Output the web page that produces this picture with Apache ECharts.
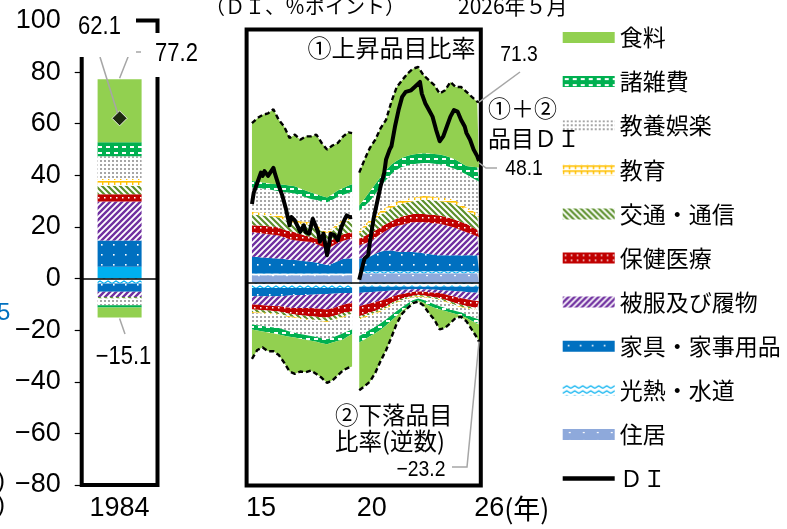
<!DOCTYPE html>
<html lang="ja"><head><meta charset="utf-8">
<script src="https://cdn.jsdelivr.net/npm/echarts@6/dist/echarts.min.js"></script>
<style>html,body{margin:0;padding:0;background:#fff;}#chart{width:787px;height:529px;}</style>
</head><body><div id="chart"></div>
<script>
// ---------------- DATA ----------------
// legend order (top of the stack first)
const categories = ['食料','諸雑費','教養娯楽','教育','交通・通信','保健医療','被服及び履物','家具・家事用品','光熱・水道','住居'];

// sample months of the stacked contributions (seg1: 2015-01..2019-09, gap, seg2: 2020-10..2026-05)
const sampleMonths = ['2015-01','2015-04','2015-07','2015-10','2016-01','2016-04','2016-07','2016-10','2017-01','2017-04','2017-07','2017-10','2018-01','2018-04','2018-07','2018-10','2019-01','2019-04','2019-07','2019-09',
 '除外2',
 '2020-10','2021-01','2021-04','2021-07','2021-10','2022-01','2022-04','2022-07','2022-10','2023-01','2023-04','2023-07','2023-10','2024-01','2024-04','2024-07','2024-10','2025-01','2025-04','2025-07','2025-10','2026-01','2026-04','2026-05'];

// ① rising-item contributions (points)
const upFood   = [22.8,25.0,26.7,27.6,29.5,25.4,23.0,18.8,20.4,19.3,21.4,22.1,23.5,20.9,18.9,19.2,18.8,20.4,21.0,20.2, null, 13.0,15.4,17.1,17.5,19.2,19.8,24.8,29.1,30.6,32.4,33.8,34.2,30.7,28.9,27.1,24.0,25.8,29.8,28.7,30.0,29.3,27.6,25.9,25.8];
const upMisc   = [2.6,2.6,2.4,2.4,2.5,2.7,2.8,2.8,2.8,2.7,2.6,2.6,2.3,2.1,1.9,2.2,2.4,2.6,2.9,2.9, null, 2.0,3.0,3.9,3.9,3.7,3.9,3.7,3.6,3.6,3.9,3.9,3.9,3.9,3.8,3.9,3.9,3.9,3.9,3.8,3.5,3.3,4.3,5.2,5.5];
const upCult   = [9.5,9.5,9.5,9.4,9.2,9.2,9.9,10.5,10.7,10.2,9.7,9.2,9.9,10.8,11.8,11.1,10.5,9.7,10.1,10.5, null, 7.8,7.5,7.3,8.4,9.7,10.8,12.0,12.6,13.0,13.0,13.1,13.1,13.0,13.1,13.0,13.1,12.8,12.4,12.4,12.6,13.0,12.9,12.8,12.8];
const upEdu    = [1.1,1.1,1.1,1.1,1.1,1.2,1.1,1.1,1.1,1.1,1.1,1.1,1.1,1.0,1.0,1.1,1.1,1.1,1.0,1.0, null, 1.2,1.3,1.6,1.6,1.6,1.6,1.5,1.6,1.6,1.5,1.5,1.5,1.5,1.5,1.5,1.5,1.5,1.5,1.4,1.4,1.3,1.3,1.2,1.2];
const upTrans  = [4.3,4.2,4.1,4.1,4.1,4.0,3.9,3.6,3.5,3.9,4.4,4.7,4.2,3.6,2.9,3.6,4.2,4.8,4.6,4.5, null, 2.1,3.0,3.8,4.4,4.9,5.0,5.2,5.0,5.0,5.1,5.0,5.3,5.6,5.7,5.7,5.6,5.9,6.2,6.2,5.8,5.2,5.3,5.4,5.3];
const upHealth = [2.7,2.8,3.0,3.1,3.1,3.1,3.0,3.2,3.2,2.8,2.3,2.0,2.2,2.4,2.6,2.5,2.5,2.6,2.6,2.5, null, 2.6,3.0,3.3,2.9,2.7,2.6,2.6,3.0,3.3,3.3,3.3,3.3,3.3,3.3,3.3,3.3,3.3,3.3,3.2,3.2,3.3,2.8,2.6,2.6];
const upCloth  = [9.7,9.6,9.5,9.3,9.3,9.1,8.6,8.1,7.8,7.7,7.8,7.8,7.3,6.9,6.5,6.9,7.2,7.1,7.6,7.9, null, 5.2,5.6,5.9,6.3,6.9,7.8,8.9,10.0,10.7,11.2,11.7,11.9,12.2,12.3,12.4,12.4,11.9,11.3,10.7,9.9,9.1,8.3,7.5,7.2];
const upFurn   = [6.6,6.5,6.3,6.2,6.0,5.9,5.7,5.4,5.3,5.1,4.8,4.6,4.3,3.8,3.3,3.9,4.8,5.8,5.9,5.9, null, 5.0,5.3,5.8,6.9,7.8,8.2,8.2,7.8,7.6,7.6,7.6,7.4,7.1,6.8,6.5,6.3,6.3,6.3,6.3,6.3,6.3,6.3,6.3,6.3];
const upUtil   = [0.7,0.7,0.7,0.7,0.7,0.7,0.7,0.7,0.7,0.7,0.7,0.7,0.7,0.7,0.7,0.7,0.7,0.7,0.7,0.7, null, 0.8,0.8,0.8,0.8,0.8,0.8,0.8,0.8,0.8,0.8,0.8,0.8,0.8,0.8,0.8,0.8,0.8,0.8,0.8,0.8,0.8,0.8,0.8,0.8];
const upHouse  = [3.0,3.0,3.0,3.0,3.0,3.0,3.0,3.0,3.0,3.0,3.0,3.0,3.0,3.0,3.0,3.0,3.0,3.0,3.0,3.0, null, 3.8,3.8,3.8,3.8,3.8,3.8,3.8,3.8,3.8,3.8,3.8,3.8,3.8,3.8,3.8,3.8,3.8,3.8,3.8,3.8,3.8,3.8,3.8,3.8];

// ② falling-item contributions (sign reversed)
const dnFood   = [-11.6,-7.7,-6.3,-7.4,-7.0,-8.1,-10.6,-13.7,-14.3,-12.9,-12.8,-11.7,-12.7,-13.7,-15.3,-14.9,-13.5,-12.1,-12.5,-12.7, null, -18.8,-18.4,-17.9,-15.6,-12.3,-9.8,-6.6,-3.0,-1.2,-0.6,-0.4,-0.4,-1.2,-3.1,-4.7,-7.9,-6.7,-4.2,-1.5,-0.5,-1.3,-3.4,-5.8,-6.8];
const dnMisc   = [-2.0,-2.1,-2.2,-2.3,-2.4,-2.6,-2.4,-2.1,-1.9,-1.9,-1.9,-1.9,-1.9,-1.9,-1.9,-2.0,-2.2,-2.5,-2.0,-1.9, null, -2.6,-2.6,-2.6,-2.6,-2.5,-2.3,-2.1,-1.9,-1.4,-1.2,-0.7,-0.8,-1.0,-1.2,-1.3,-1.3,-1.2,-1.2,-1.2,-1.2,-1.4,-1.6,-1.8,-1.9];
const dnCult   = [-4.5,-4.7,-4.8,-5.0,-5.1,-5.1,-5.3,-5.6,-5.8,-5.9,-6.0,-6.1,-6.3,-6.6,-6.8,-6.6,-6.4,-6.2,-6.0,-5.8, null, -6.5,-6.0,-5.5,-5.0,-4.6,-4.1,-3.7,-3.2,-2.4,-1.7,-1.0,-0.7,-1.0,-1.5,-1.9,-2.3,-2.3,-2.1,-2.0,-2.0,-2.4,-2.9,-3.3,-3.5];
const dnEdu    = [-0.4,-0.4,-0.4,-0.4,-0.4,-0.4,-0.4,-0.4,-0.4,-0.4,-0.4,-0.4,-0.4,-0.4,-0.4,-0.4,-0.4,-0.4,-0.4,-0.4, null, -0.5,-0.5,-0.5,-0.5,-0.5,-0.5,-0.4,-0.3,-0.3,-0.3,-0.3,-0.3,-0.3,-0.3,-0.3,-0.3,-0.3,-0.3,-0.3,-0.3,-0.3,-0.4,-0.4,-0.4];
const dnTrans  = [-1.0,-1.0,-1.0,-1.0,-1.0,-1.0,-1.0,-1.0,-1.0,-1.1,-1.2,-1.3,-1.3,-1.3,-1.3,-1.4,-1.4,-1.4,-1.1,-1.0, null, -0.8,-0.8,-0.8,-0.8,-0.7,-0.7,-0.7,-0.6,-0.7,-0.6,-0.5,-0.5,-0.5,-0.6,-0.6,-0.6,-0.6,-0.7,-0.7,-0.7,-0.7,-0.7,-0.7,-0.7];
const dnHealth = [-1.9,-1.9,-2.0,-1.9,-2.0,-2.1,-2.3,-2.4,-2.6,-2.9,-3.1,-3.3,-3.3,-3.3,-3.3,-3.2,-3.2,-3.2,-3.3,-3.3, null, -4.0,-3.8,-3.5,-3.4,-3.1,-2.8,-2.4,-2.1,-1.8,-1.6,-1.5,-1.3,-1.5,-1.6,-1.8,-2.0,-2.2,-2.3,-2.5,-2.6,-2.6,-2.6,-2.6,-2.6];
const dnCloth  = [-3.3,-3.4,-3.5,-3.7,-3.8,-3.9,-4.3,-4.8,-5.0,-5.1,-5.1,-5.2,-5.5,-5.8,-6.1,-5.7,-5.2,-4.7,-4.2,-3.9, null, -5.2,-4.9,-4.5,-4.1,-3.7,-3.2,-2.6,-2.0,-1.7,-1.4,-1.1,-1.0,-1.0,-1.1,-1.2,-1.2,-1.5,-2.0,-2.3,-2.7,-2.9,-3.1,-3.3,-3.3];
const dnFurn   = [-3.3,-3.3,-3.3,-3.3,-3.3,-3.3,-3.2,-3.0,-2.9,-2.8,-2.8,-2.7,-2.6,-2.5,-2.4,-2.3,-2.2,-2.0,-2.0,-2.0, null, -2.5,-2.3,-2.2,-2.0,-1.9,-1.7,-1.5,-1.4,-1.2,-1.1,-1.0,-0.9,-1.0,-1.1,-1.2,-1.3,-1.5,-1.6,-1.8,-1.9,-2.1,-2.3,-2.4,-2.5];
const dnUtil   = [-2.0,-2.0,-2.0,-2.0,-2.0,-2.0,-2.0,-2.0,-2.0,-2.0,-2.0,-2.0,-2.0,-2.0,-2.0,-2.0,-2.0,-2.0,-2.0,-2.0, null, -1.5,-1.5,-1.5,-1.5,-1.5,-1.5,-1.5,-1.5,-1.5,-1.5,-1.5,-1.5,-1.5,-1.5,-1.5,-1.5,-1.5,-1.5,-1.5,-1.5,-1.5,-1.5,-1.5,-1.5];
const dnHouse  = [0,0,0,0,0,0,0,0,0,0,0,0,0,0,0,0,0,0,0,0, null, 0,0,0,0,0,0,0,0,0,0,0,0,0,0,0,0,0,0,0,0,0,0,0,0];

// DI (①+②)
const diMonths = ['2015-01','2015-02','2015-04','2015-06','2015-07','2015-08','2015-10','2015-11','2016-01','2016-02','2016-04','2016-06','2016-08','2016-10','2016-11','2017-01','2017-02','2017-04','2017-06','2017-07','2017-09','2017-11','2017-12','2018-02','2018-03','2018-05','2018-07','2018-08','2018-09','2018-11','2019-01','2019-03','2019-05','2019-06','2019-08','2019-09',
 '除外2',
 '2020-10','2020-12','2021-01','2021-03','2021-04','2021-06','2021-08','2021-10','2021-12','2022-01','2022-03','2022-04','2022-06','2022-08','2022-10','2022-12','2023-03','2023-05','2023-06','2023-08','2023-09','2023-11','2024-01','2024-03','2024-05','2024-07','2024-08','2024-09','2024-11','2025-01','2025-03','2025-05','2025-07','2025-09','2025-10','2025-12','2026-02','2026-04','2026-05'];
const diValues = [31.1,35.6,39.5,43.5,42.2,44.1,42.2,42.8,45.4,42.8,38.3,34.4,29.2,22.7,26.0,24.6,24.0,20.1,22.7,20.1,19.4,25.3,25.9,20.1,16.2,19.4,10.9,14.8,19.4,18.8,16.8,22.0,25.3,26.6,25.9,26.0,
 null,
 1.2,7.0,9.6,10.9,16.1,25.3,31.8,38.3,43.5,48.7,52.6,53.9,61.7,68.2,73.4,75.4,76.0,77.3,78.0,79.3,74.7,70.8,68.2,65.6,60.4,55.9,56.5,57.8,61.7,65.6,68.2,67.6,64.3,61.7,59.1,56.5,52.6,50.0,48.1];

// 1984 bar (categories order)
const bar1984Up   = [24.4, 5.4, 8.8, 2.6, 3.3, 2.8, 15.2, 10.1, 4.6, 0.0];
const bar1984Down = [-3.9, -0.9, -2.6, 0.0, -0.6, 0.0, -2.0, -3.2, -1.9, 0.0];
const di1984 = 62.1;

// x tick labels of the middle panel
const xTickAt   = ['2015-06','2021-05','2026-06'];
const xTickText = ['15','20','26'];
const yTicks = [-80,-60,-40,-20,0,20,40,60,80,100];

// ---------------- BUILD ----------------
const upArr = {'食料':upFood,'諸雑費':upMisc,'教養娯楽':upCult,'教育':upEdu,'交通・通信':upTrans,'保健医療':upHealth,'被服及び履物':upCloth,'家具・家事用品':upFurn,'光熱・水道':upUtil,'住居':upHouse};
const dnArr = {'食料':dnFood,'諸雑費':dnMisc,'教養娯楽':dnCult,'教育':dnEdu,'交通・通信':dnTrans,'保健医療':dnHealth,'被服及び履物':dnCloth,'家具・家事用品':dnFurn,'光熱・水道':dnUtil,'住居':dnHouse};

function monthSeq(y, m, n){ const o=[]; for(let k=0;k<n;k++){ const t=y*12+(m-1)+k; o.push(Math.floor(t/12)+'-'+String(t%12+1).padStart(2,'0')); } return o; }
const axisMonths = [].concat(['2014-10','2014-11','2014-12'], monthSeq(2015,1,57), ['除外1','除外2','除外3'], monthSeq(2020,10,68), ['2026-06']);

const JP = "'Noto Sans CJK JP','Noto Sans CJK SC',sans-serif";
const NUM = "'Liberation Sans Narrow','Arial Narrow','Liberation Sans',sans-serif";

function pat(w, h, draw){ const c=document.createElement('canvas'); c.width=w; c.height=h; const g=c.getContext('2d'); draw(g); return {image:c, repeat:'repeat'}; }
const fills = {
  '食料': '#92D050',
  '諸雑費': pat(8,6,g=>{g.fillStyle='#00B050';g.fillRect(0,0,8,6);g.fillStyle='#fff';g.fillRect(2,2,4,2);}),
  '教養娯楽': pat(4,4,g=>{g.fillStyle='#fff';g.fillRect(0,0,4,4);g.fillStyle='#A6A6A6';g.fillRect(0,0,2,2);}),
  '教育': pat(6,5,g=>{g.fillStyle='#fff';g.fillRect(0,0,6,5);g.fillStyle='#FFC000';g.fillRect(0,1,6,1.6);g.fillRect(0,1,1.4,4);}),
  '交通・通信': pat(6,6,g=>{g.fillStyle='#fff';g.fillRect(0,0,6,6);g.strokeStyle='#5B8F2B';g.lineWidth=2.2;g.beginPath();g.moveTo(-1,-1);g.lineTo(7,7);g.moveTo(-1,5);g.lineTo(1,7);g.moveTo(5,-1);g.lineTo(7,1);g.stroke();}),
  '保健医療': pat(6,5,g=>{g.fillStyle='#C00000';g.fillRect(0,0,6,5);g.fillStyle='#fff';g.fillRect(2,2,1.5,1.5);}),
  '被服及び履物': pat(6,6,g=>{g.fillStyle='#fff';g.fillRect(0,0,6,6);g.strokeStyle='#7030A0';g.lineWidth=2.4;g.beginPath();g.moveTo(-1,7);g.lineTo(7,-1);g.moveTo(-1,1);g.lineTo(1,-1);g.moveTo(5,7);g.lineTo(7,5);g.stroke();}),
  '家具・家事用品': pat(12,10,g=>{g.fillStyle='#0070C0';g.fillRect(0,0,12,10);g.fillStyle='#fff';g.fillRect(5,4,1.6,1.6);}),
  '光熱・水道': pat(8,5,g=>{g.fillStyle='#fff';g.fillRect(0,0,8,5);g.strokeStyle='#00B0F0';g.lineWidth=1.2;g.beginPath();g.moveTo(0,3.5);g.lineTo(4,1);g.lineTo(8,3.5);g.stroke();}),
  '住居': pat(14,8,g=>{g.fillStyle='#8EA9DB';g.fillRect(0,0,14,8);g.fillStyle='#fff';g.fillRect(6,3,2,1.2);})
};

const stackOrder = categories.slice().reverse();
const series = [];
stackOrder.forEach(name => {
  const ci = categories.indexOf(name);
  series.push({type:'bar', name, xAxisIndex:0, yAxisIndex:0, stack:'b84', barWidth:44, silent:true,
    data:[bar1984Up[ci]], itemStyle:{color: name==='光熱・水道' ? '#00B0F0' : fills[name]}});
  series.push({type:'bar', name, xAxisIndex:0, yAxisIndex:0, stack:'b84', barWidth:44, silent:true,
    data:[bar1984Down[ci]], itemStyle:{color: fills[name]}});
});
stackOrder.forEach(name => {
  const isFood = name === '食料';
  [['up', upArr[name]], ['dn', dnArr[name]]].forEach(([dir, arr]) => {
    series.push({type:'line', name, xAxisIndex:1, yAxisIndex:1, stack:'area'+dir, stackStrategy:'all',
      symbol:'none', silent:true, z:2,
      data: sampleMonths.map((m,j)=>[m, arr[j]]),
      itemStyle:{color: isFood ? '#92D050' : '#888'},
      areaStyle:{color: fills[name], opacity:1},
      lineStyle: isFood ? {color:'#000', width:2.4, type:[5,3]} : {width:0, opacity:0}});
  });
});
series.push({type:'line', name:'ＤＩ', xAxisIndex:1, yAxisIndex:1, symbol:'none', showSymbol:false, z:6, silent:true,
  data: diMonths.map((m,j)=>[m, diValues[j]]),
  itemStyle:{color:'#000'}, lineStyle:{color:'#000', width:4, join:'round'},
  markLine:{silent:true, symbol:['none','none'], label:{show:false}, lineStyle:{color:'#000', width:1.5, type:'solid'}, data:[{yAxis:0}]}});
series.push({type:'scatter', name:'ＤＩ1984', xAxisIndex:0, yAxisIndex:0, symbol:'diamond', symbolSize:15, z:8, silent:true,
  data:[['1984', di1984]], itemStyle:{color:'#000', borderColor:'#fff', borderWidth:1},
  markLine:{silent:true, symbol:['none','none'], label:{show:false}, lineStyle:{color:'#000', width:1.5, type:'solid'}, data:[{yAxis:0}]}});

const fmtNum = v => (v < 0 ? '−' + Math.abs(v) : String(v));

const option = {
  animation:false,
  backgroundColor:'#fff',
  grid:[
    {left:81.7, top:20.5, width:75.8, height:464.5, show:true, borderColor:'#000', borderWidth:4, backgroundColor:'transparent'},
    {left:246.6, top:29.5, width:234.2, height:456, show:true, borderColor:'#000', borderWidth:4, backgroundColor:'transparent'}
  ],
  xAxis:[
    {gridIndex:0, type:'category', data:['1984'], axisLine:{show:false}, axisTick:{show:false},
     axisLabel:{fontFamily:NUM, fontSize:27, color:'#000', margin:10}},
    {gridIndex:1, type:'category', data:axisMonths, boundaryGap:false, axisLine:{show:false}, axisTick:{show:false}, splitLine:{show:false},
     axisLabel:{interval:(i, v) => xTickAt.indexOf(v) >= 0, fontFamily:NUM, fontSize:27, color:'#000', margin:10,
       formatter:(v) => { const k = xTickAt.indexOf(v); if (k < 0) return ''; return k === xTickAt.length-1 ? '{n|' + xTickText[k] + '}{j|(年)}' : xTickText[k]; },
       rich:{n:{fontFamily:NUM, fontSize:27, color:'#000', padding:[0,0,0,62]}, j:{fontFamily:JP, fontSize:27, color:'#000'}}}}
  ],
  yAxis:[
    {gridIndex:0, type:'value', min:yTicks[0], max:yTicks[yTicks.length-1], interval:20, axisLine:{show:false},
     axisTick:{show:true, length:7, lineStyle:{color:'#000', width:1.2}}, splitLine:{show:false},
     axisLabel:{formatter:fmtNum, fontFamily:NUM, fontSize:27, color:'#000', margin:21}},
    {gridIndex:1, type:'value', min:yTicks[0], max:yTicks[yTicks.length-1], interval:20, axisLine:{show:false}, axisTick:{show:false}, axisLabel:{show:false}, splitLine:{show:false}}
  ],
  legend:{orient:'vertical', left:562.7, top:24.5, padding:0, itemWidth:52, itemHeight:11, itemGap:18.1, selectedMode:false,
    textStyle:{fontFamily:JP, fontSize:23, color:'#000', lineHeight:26},
    data: categories.map(n => ({name:n, icon:'rect', itemStyle:{color:fills[n], borderWidth:0}}))
      .concat([{name:'ＤＩ', icon:'path://M0,0H52V4.5H0Z', itemStyle:{color:'#000', borderWidth:0}}])},
  series
};

const chart = echarts.init(document.getElementById('chart'), null, {renderer:'canvas'});
chart.setOption(option);

// ---------------- annotations ----------------
const sumAt = (obj, j) => categories.reduce((s, n) => s + obj[n][j], 0);
const last = sampleMonths.length - 1;
const upEnd = sumAt(upArr, last), dnEnd = sumAt(dnArr, last);
const diEnd = diValues[diValues.length-1];
const up84 = bar1984Up.reduce((a,b)=>a+b,0), dn84 = bar1984Down.reduce((a,b)=>a+b,0);
const px0 = v => chart.convertToPixel({gridIndex:0}, ['1984', v]);
const px1 = (m, v) => chart.convertToPixel({gridIndex:1}, [m, v]);
const pTop = px0(up84), pBot = px0(dn84), pDia = px0(di1984);
const pUp = px1(sampleMonths[last], upEnd), pDn = px1(sampleMonths[last], dnEnd), pDi = px1(diMonths[diMonths.length-1], diEnd);
const lbl = v => { const r = (Math.round(v*10)/10).toFixed(1); return r.charAt(0)==='-' ? '−'+r.slice(1) : r; };

const GREY = '#A6A6A6';
const line = pts => ({type:'polyline', z:51, silent:true, shape:{points:pts}, style:{stroke:GREY, lineWidth:1.5, fill:null}});
const text = (t, x, y, size, fam, align, color, sx) => ({type:'text', z:60, silent:true, x, y, scaleX: sx || 1, style:{text:t, fontSize:size, fontFamily:fam, fill:color||'#000', align:align||'left', verticalAlign:'middle'}});

chart.setOption({graphic:[
  line([[pTop[0], pTop[1]-1], [130, 52], [141, 52]]),
  {type:'rect', z:52, silent:true, shape:{x:70, y:8, width:66, height:49}, style:{fill:'#fff'}},
  {type:'rect', z:52, silent:true, shape:{x:150, y:33, width:60, height:44}, style:{fill:'#fff'}},
  line([[100, 57], [pDia[0]-2, pDia[1]-5]]),
  line([[pBot[0], pBot[1]+1], [125, 334]]),
  line([[pUp[0], pUp[1]], [520, 72]]),
  line([[pDi[0], pDi[1]+2], [486, 168], [497, 168]]),
  line([[pDn[0], pDn[1]], [467, 467], [452, 467]]),
  text(lbl(di1984), 99.5, 27, 25, NUM, 'center', null, 0.88),
  text(lbl(up84), 176.5, 54, 25, NUM, 'center', null, 0.88),
  text(lbl(dn84), 123.5, 357.5, 25, NUM, 'center', null, 0.88),
  text(lbl(upEnd), 519, 55, 22, NUM, 'center', null, 0.88),
  text(lbl(diEnd), 524, 168.5, 22, NUM, 'center', null, 0.88),
  text(lbl(dnEnd), 421, 469.5, 22, NUM, 'center', null, 0.88),
  text('①上昇品目比率', 391.5, 48, 24, JP, 'center'),
  text('①＋②', 488, 108, 23, JP),
  text('品目ＤＩ', 488, 138, 23, JP),
  text('②下落品目', 335, 415, 23.5, JP),
  text('比率(逆数)', 335, 441, 23.5, JP),
  text('（ＤＩ、％ポイント）', 205, 6, 20, JP),
  text('2026年５月', 458, 6, 21, JP),
  text('5', -3, 313, 24, NUM, 'left', '#0070C0'),
  text(')', -3, 481, 24, NUM),
  text(')', -3, 505, 24, NUM)
]});
</script>
</body></html>
